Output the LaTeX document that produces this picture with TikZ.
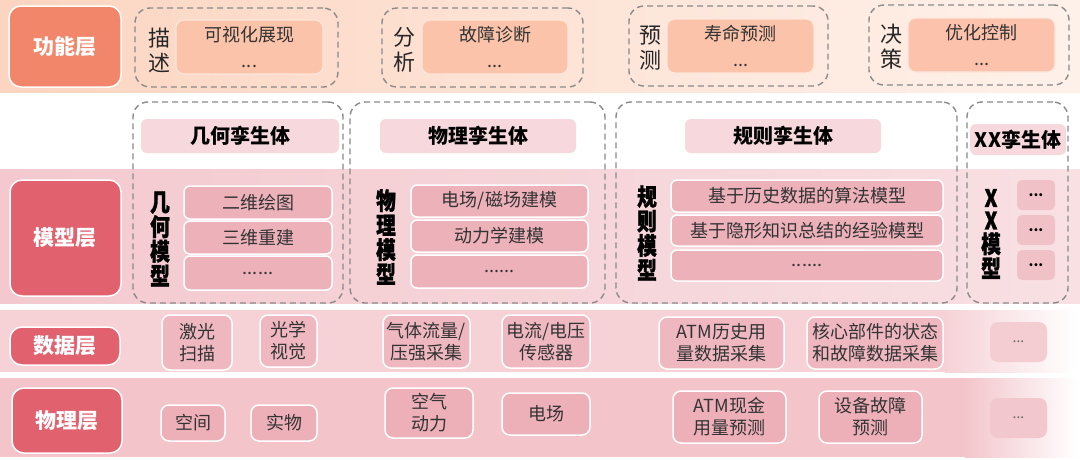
\documentclass[tikz,border=0pt]{standalone}
\usepackage{fontspec}
\setmainfont{Noto Sans CJK SC}
\newfontfamily\heavy[FakeStretch=0.82, BoldFeatures={FakeBold=1.2}]{Noto Sans CJK SC}
\definecolor{peachL}{HTML}{FCD5C1}
\definecolor{peachR}{HTML}{FEF1EA}
\definecolor{coral}{HTML}{F2866A}
\definecolor{finbox}{HTML}{FBC3A9}
\definecolor{rose}{HTML}{E1616F}
\definecolor{mband}{HTML}{F3C9CF}
\definecolor{mbandR}{HTML}{F8E0E3}
\definecolor{hdrc}{HTML}{F7D8DD}
\definecolor{itemc}{HTML}{EDB1BA}
\definecolor{dband}{HTML}{F6D2D7}
\definecolor{ditem}{HTML}{EFB8C0}
\definecolor{pband}{HTML}{F3C5CB}
\definecolor{pitem}{HTML}{EDAFB8}
\definecolor{dashc}{HTML}{8A8A8A}
\definecolor{txt}{HTML}{333333}
\newcommand\mkbox[7]{\node[#6, minimum width={(#4-#2)*1pt}, minimum height={(#5-#3)*1pt}] (#1) at ({(#2+#4)/2},{(#3+#5)/2}) {#7};}
\tikzset{
  layer/.style={rounded corners=12pt, fill=rose, draw=white, line width=1.5pt, text=white,
    font=\bfseries\fontsize{21}{24}\selectfont, inner sep=0pt},
  grp/.style={draw=dashc, dash pattern=on 6pt off 4pt, line width=1.4pt, rounded corners=15pt, inner sep=0pt},
  fin/.style={fill=finbox, draw=white!60!finbox, line width=1.2pt, rounded corners=8pt, align=center,
    text=txt, font=\fontsize{18}{26}\selectfont, inner sep=0pt},
  flab/.style={align=center, text=black!85, font=\fontsize{22}{25}\selectfont, inner sep=0pt},
  hdr/.style={fill=hdrc, rounded corners=6pt, text=black, font=\bfseries\fontsize{20}{24}\selectfont, inner sep=0pt},
  vlab/.style={align=center, text=black, font=\heavy\bfseries\fontsize{24}{24.5}\selectfont, inner sep=0pt},
  mitem/.style={fill=itemc, draw=white, line width=1.5pt, rounded corners=6pt, text=txt,
    font=\fontsize{18}{22}\selectfont, inner sep=0pt},
  xitem/.style={fill=itemc!80!white, rounded corners=5pt, text=black, font=\bfseries\fontsize{14}{16}\selectfont, inner sep=0pt},
  ditm/.style={fill=ditem, draw=white, line width=1.5pt, rounded corners=8pt, text=txt, align=center,
    font=\fontsize{18}{22}\selectfont, inner sep=0pt},
  pitm/.style={fill=pitem, draw=white, line width=1.5pt, rounded corners=8pt, text=txt, align=center,
    font=\fontsize{18}{22}\selectfont, inner sep=0pt},
  dots/.style={fill=ditem!70!white, rounded corners=8pt, text=black!60, font=\fontsize{14}{16}\selectfont, inner sep=0pt},
}
\begin{document}
\begin{tikzpicture}[x=1pt,y=-1pt]
\fill[white] (0,0) rectangle (1080,459);
\useasboundingbox (0,0) rectangle (1080,459);
% bands
\shade[left color=peachL, right color=peachR] (0,0) rectangle (1080,92);
\shade[left color=mband, right color=mbandR] (0,169) rectangle (1080,303);
\fill[dband] (0,310) rectangle (945,372);
\shade[left color=dband, right color=white] (945,310) rectangle (1078,372);
\fill[pband] (0,378) rectangle (965,457);
\shade[left color=pband, right color=white] (965,378) rectangle (1078,457);

% ---------- function layer ----------
\mkbox{Lf}{9}{6}{121}{87}{layer, fill=coral}{功能层}
\mkbox{g1}{135}{8}{338}{87}{grp}{}
\node[flab] (l1) at (159,50) {描\\述};
\mkbox{f1}{176}{20}{323}{74}{fin}{可视化展现\\...}
\mkbox{g2}{382}{8}{583}{87}{grp}{}
\node[flab] (l2) at (404,50) {分\\析};
\mkbox{f2}{422}{20}{568}{74}{fin}{故障诊断\\...}
\mkbox{g3}{629}{6}{828}{86}{grp}{}
\node[flab] (l3) at (650,48) {预\\测};
\mkbox{f3}{667}{19}{814}{73}{fin}{寿命预测\\...}
\mkbox{g4}{869}{5}{1069}{85}{grp}{}
\node[flab] (l4) at (891,47) {决\\策};
\mkbox{f4}{908}{18}{1055}{72}{fin, fill=finbox!85!pink}{优化控制\\...}

% ---------- model layer ----------
\mkbox{Lm}{10}{180}{121}{296}{layer}{模型层}
\mkbox{mg1}{133}{102}{343}{303}{grp}{}
\mkbox{mg2}{350}{102}{605}{303}{grp}{}
\mkbox{mg3}{616}{102}{957}{303}{grp}{}
\mkbox{mg4}{967}{102}{1068}{303}{grp}{}
\mkbox{h1}{141}{119}{339}{153}{hdr}{几何孪生体}
\mkbox{h2}{380}{119}{576}{153}{hdr}{物理孪生体}
\mkbox{h3}{685}{119}{881}{153}{hdr}{规则孪生体}
\mkbox{h4}{970}{124}{1066}{155}{hdr}{XX孪生体}
\node[vlab] (v1) at (160,239) {几\\何\\模\\型};
\node[vlab] (v2) at (386,237) {物\\理\\模\\型};
\node[vlab] (v3) at (647,233) {规\\则\\模\\型};
\node[vlab] (v4) at (991,234) {X\\[-2pt]X\\[-1pt]模\\型};
\mkbox{a1}{184}{186}{332}{219}{mitem}{二维绘图}
\mkbox{a2}{184}{221}{332}{254}{mitem}{三维重建}
\mkbox{a3}{184}{256}{332}{290}{mitem}{......}
\mkbox{b1}{411}{185}{588}{217}{mitem}{电场/磁场建模}
\mkbox{b2}{411}{220}{588}{252}{mitem}{动力学建模}
\mkbox{b3}{411}{255}{588}{288}{mitem}{......}
\mkbox{c1}{671}{180}{943}{212}{mitem}{基于历史数据的算法模型}
\mkbox{c2}{671}{215}{943}{246}{mitem}{基于隐形知识总结的经验模型}
\mkbox{c3}{671}{250}{943}{281}{mitem}{......}
\mkbox{x1}{1017}{180}{1055}{210}{xitem}{...}
\mkbox{x2}{1017}{215}{1055}{245}{xitem}{...}
\mkbox{x3}{1017}{250}{1055}{280}{xitem}{...}

% ---------- data layer ----------
\mkbox{Ld}{10}{327}{120}{365}{layer}{数据层}
\mkbox{d1}{162}{315}{232}{370}{ditm}{激光\\扫描}
\mkbox{d2}{260}{315}{317}{367}{ditm}{光学\\视觉}
\mkbox{d3}{383}{315}{470}{368}{ditm}{气体流量/\\压强采集}
\mkbox{d4}{502}{315}{590}{368}{ditm}{电流/电压\\传感器}
\mkbox{d5}{659}{317}{784}{369}{ditm}{ATM历史用\\量数据采集}
\mkbox{d6}{807}{317}{943}{369}{ditm}{核心部件的状态\\和故障数据采集}
\mkbox{d7}{990}{322}{1047}{362}{dots}{...}

% ---------- physical layer ----------
\mkbox{Lp}{12}{388}{122}{453}{layer}{物理层}
\mkbox{p1}{161}{405}{225}{441}{pitm}{空间}
\mkbox{p2}{251}{405}{317}{441}{pitm}{实物}
\mkbox{p3}{385}{388}{473}{438}{pitm}{空气\\动力}
\mkbox{p4}{502}{393}{590}{435}{pitm}{电场}
\mkbox{p5}{673}{391}{786}{443}{pitm}{ATM现金\\用量预测}
\mkbox{p6}{819}{391}{922}{443}{pitm}{设备故障\\预测}
\mkbox{p7}{990}{398}{1047}{438}{dots, fill=pitem!70!white}{...}
\end{tikzpicture}
\end{document}
